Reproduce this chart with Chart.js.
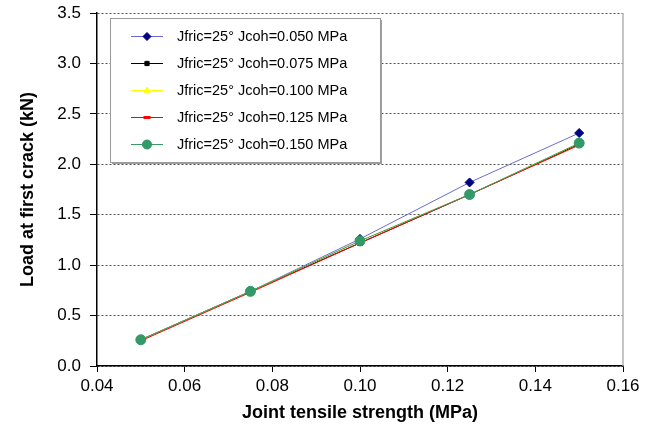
<!DOCTYPE html>
<html>
<head>
<meta charset="utf-8">
<script src="https://cdn.jsdelivr.net/npm/chart.js@4/dist/chart.umd.min.js"></script>
<style>
  html, body { margin: 0; padding: 0; background: #fff; }
  #wrap { width: 659px; height: 430px; }
</style>
</head>
<body>
<div id="wrap"><canvas id="chart" width="659" height="430"></canvas></div>
<script>
// joint tensile strength (MPa)
const strength = [0.05, 0.075, 0.10, 0.125, 0.15];
const labels = ['Jfric=25° Jcoh=0.050 MPa', 'Jfric=25° Jcoh=0.075 MPa', 'Jfric=25° Jcoh=0.100 MPa',
                'Jfric=25° Jcoh=0.125 MPa', 'Jfric=25° Jcoh=0.150 MPa'];
// load at first crack (kN)
const coh050 = [0.26, 0.74, 1.26, 1.82, 2.31];
const coh075 = [0.26, 0.74, 1.22, 1.70, 2.20];
const coh100 = [0.26, 0.74, 1.24, 1.70, 2.21];
const coh125 = [0.25, 0.73, 1.22, 1.70, 2.19];
const coh150 = [0.26, 0.74, 1.24, 1.70, 2.21];

const font = 'Liberation Sans, Arial, sans-serif';

function pts(vals) {
  return vals.map((v, i) => ({ x: strength[i], y: v }));
}

const styles = [
  { line: '#6b6bd0', fill: '#000080', point: 'rectRot', r: 4.5 },
  { line: '#000000', fill: '#000000', point: 'rect', r: 3.5 },
  { line: '#ffff00', fill: '#ffff00', point: 'triangle', r: 4 },
  { line: '#ff0000', fill: '#ff0000', point: 'line', r: 4 },
  { line: '#3a9a6a', fill: '#339966', point: 'circle', r: 5 }
];
const series = [coh050, coh075, coh100, coh125, coh150];

const datasets = series.map((vals, i) => ({
  label: labels[i],
  data: pts(vals),
  borderColor: styles[i].line,
  borderWidth: 1,
  pointStyle: styles[i].point,
  pointRadius: styles[i].r,
  pointBackgroundColor: styles[i].fill,
  pointBorderColor: styles[i].fill,
  pointBorderWidth: styles[i].point === 'line' ? 3 : 1,
  order: 4 - i,
  tension: 0
}));

// legend box inside the plot + grey right border
const boxLegend = {
  id: 'boxLegend',
  afterDraw(chart) {
    const ctx = chart.ctx;
    const a = chart.chartArea;
    ctx.save();
    ctx.strokeStyle = '#b0b0b0';
    ctx.lineWidth = 1.5;
    ctx.beginPath();
    ctx.moveTo(a.right, a.top);
    ctx.lineTo(a.right, a.bottom);
    ctx.stroke();

    const x = 110, y = 18, w = 270, h = 144;
    ctx.fillStyle = '#a0a0a0';
    ctx.fillRect(x + 2, y + 2, w, h);
    ctx.fillStyle = '#fff';
    ctx.fillRect(x, y, w, h);
    ctx.strokeStyle = '#999';
    ctx.lineWidth = 1;
    ctx.strokeRect(x + 0.5, y + 0.5, w, h);

    ctx.font = '14.5px ' + font;
    ctx.textBaseline = 'middle';
    ctx.textAlign = 'left';
    for (let i = 0; i < labels.length; i++) {
      const ry = 36 + i * 27;
      ctx.strokeStyle = styles[i].line;
      ctx.lineWidth = 1;
      ctx.beginPath();
      ctx.moveTo(131, ry + 0.5);
      ctx.lineTo(163, ry + 0.5);
      ctx.stroke();
      const bw = styles[i].point === 'line' ? 3 : 1;
      ctx.fillStyle = styles[i].fill;
      ctx.strokeStyle = styles[i].fill;
      ctx.lineWidth = bw;
      Chart.helpers.drawPoint(ctx, { pointStyle: styles[i].point, radius: styles[i].r - 0.5, rotation: 0, borderWidth: bw }, 147, ry + 0.5);
      ctx.fillStyle = '#000';
      ctx.fillText(labels[i], 177, ry + 1);
    }
    ctx.restore();
  }
};

new Chart(document.getElementById('chart'), {
  type: 'line',
  data: { datasets: datasets },
  options: {
    responsive: false,
    animation: false,
    layout: { padding: { left: 3, top: 13, right: 36, bottom: 6 } },
    plugins: { legend: { display: false }, tooltip: { enabled: false } },
    scales: {
      x: {
        type: 'linear',
        min: 0.04, max: 0.16,
        ticks: {
          stepSize: 0.02,
          color: '#000',
          font: { family: font, size: 17 },
          padding: 4,
          maxRotation: 0,
          callback: v => v.toFixed(2)
        },
        grid: { drawOnChartArea: false, tickLength: 6, tickColor: '#000' },
        border: { color: '#000', width: 1.5 },
        title: {
          display: true,
          text: 'Joint tensile strength (MPa)',
          color: '#000',
          font: { family: font, size: 18, weight: 'bold' },
          padding: { top: 0, bottom: 0 }
        },
        afterFit(scale) { scale.height = 58; scale.paddingLeft = 0; scale.paddingRight = 0; }
      },
      y: {
        min: 0, max: 3.5,
        ticks: {
          stepSize: 0.5,
          color: '#000',
          font: { family: font, size: 17 },
          padding: 9,
          callback: v => v.toFixed(1)
        },
        grid: {
          color: '#555',
          tickBorderDash: [],
          tickColor: '#000',
          tickLength: 7
        },
        border: { color: '#000', width: 1.5, dash: [2, 2] },
        title: {
          display: true,
          text: 'Load at first crack (kN)',
          color: '#000',
          font: { family: font, size: 18, weight: 'bold' },
          padding: { top: 14, bottom: 0 }
        },
        afterFit(scale) { scale.width = 94; scale.paddingTop = 0; scale.paddingBottom = 0; }
      }
    }
  },
  plugins: [boxLegend]
});
</script>
</body>
</html>
